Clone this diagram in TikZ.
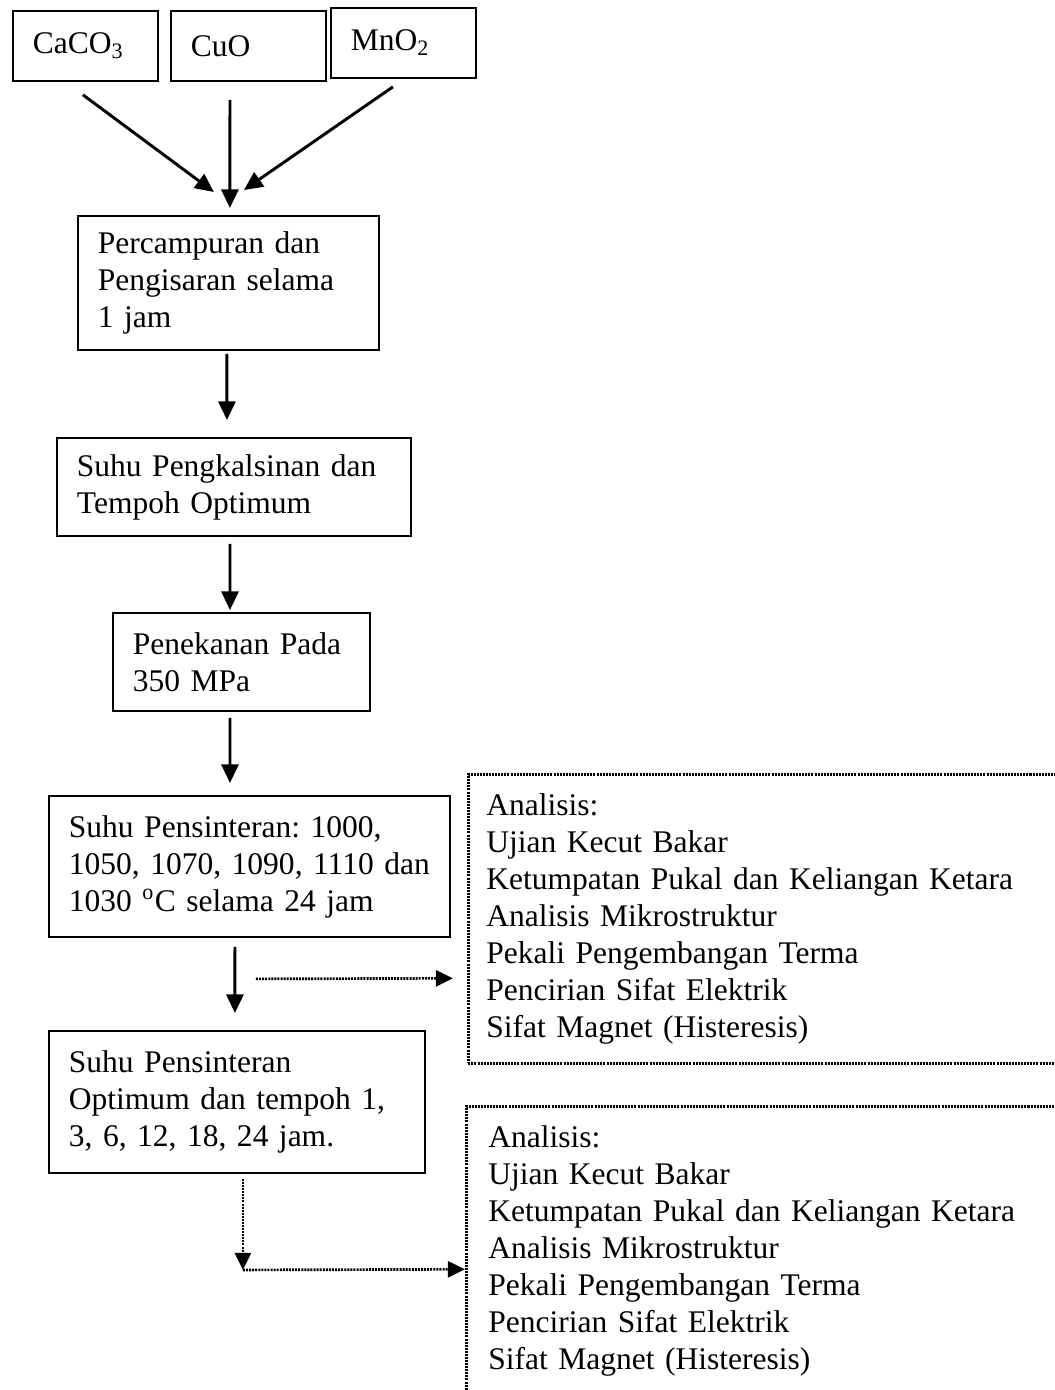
\documentclass[tikz,border=0pt]{standalone}
\usepackage{fontspec}
\setmainfont{Liberation Serif}
\usetikzlibrary{calc,arrows.meta}
\frenchspacing

\begin{document}
\begin{tikzpicture}[
      x=0.3745pt, y=-0.3745pt, % <-- ONE UNIT PER PIXEL, Y GOING DOWN
      font=\fontsize{11.8pt}{13.85pt}\selectfont,
      stage/.style={draw, line width=0.7pt, align=left, anchor=north west, inner xsep=7.49pt, inner ysep=0pt},
      dotbox/.style={stage, line width=1pt, dash pattern=on 0.75pt off 0.4pt},
      flow/.style={line width=1.1pt, -{Triangle[length=7pt, width=6.4pt]}},
      dotflow/.style={line width=1pt, dash pattern=on 0.75pt off 0.4pt, -{Triangle[length=6.4pt, width=6pt]}}
    ]
    \useasboundingbox (0,0) rectangle (1055,1390);

    % Starting powders
    \node[stage, minimum width=54.3pt, minimum height=26.2pt, text width=39.3pt] (caco) at (12,10) {CaCO\textsubscript{3}};
    \node[stage, minimum width=58.05pt, minimum height=26.2pt, text width=43.1pt] (cuo) at (170,10) {CuO};
    \node[stage, minimum width=54.3pt, minimum height=26.2pt, text width=39.3pt] (mno) at (330,7) {MnO\textsubscript{2}};

    % Process steps
    \node[stage, minimum width=112.7pt, minimum height=50.2pt, text width=97.7pt] (mix) at (77,215)
      {Percampuran dan\\Pengisaran selama\\1 jam};
    \node[stage, minimum width=132.6pt, minimum height=36.7pt, text width=117.6pt] (calc) at (56,437)
      {Suhu Pengkalsinan dan\\Tempoh Optimum};
    \node[stage, minimum width=96.2pt, minimum height=36.7pt, text width=81.3pt] (press) at (112,612)
      {Penekanan Pada\\350 MPa};
    \node[stage, minimum width=150.2pt, minimum height=52.8pt, text width=135.2pt] (sinter) at (48,795)
      {Suhu Pensinteran: 1000,\\\mbox{1050, 1070, 1090, 1110 dan}\\1030 \textsuperscript{o}C selama 24 jam};
    \node[stage, minimum width=140.8pt, minimum height=53.2pt, text width=125.8pt] (sinopt) at (48,1030)
      {Suhu Pensinteran\\Optimum dan tempoh 1,\\3, 6, 12, 18, 24 jam.};

    % Analysis boxes (run off the page edge)
    \node[dotbox, inner xsep=6.74pt, minimum width=229.6pt, minimum height=108.2pt, text width=216.1pt] (ana1) at (467,773)
      {Analisis:\\Ujian Kecut Bakar\\Ketumpatan Pukal dan Keliangan Ketara\\Analisis Mikrostruktur\\Pekali Pengembangan Terma\\Pencirian Sifat Elektrik\\Sifat Magnet (Histeresis)};
    \node[dotbox, inner xsep=8.24pt, minimum width=229.6pt, minimum height=108.2pt, text width=213.1pt] (ana2) at (465,1105)
      {Analisis:\\Ujian Kecut Bakar\\Ketumpatan Pukal dan Keliangan Ketara\\Analisis Mikrostruktur\\Pekali Pengembangan Terma\\Pencirian Sifat Elektrik\\Sifat Magnet (Histeresis)};

    % Arrows
    \draw[flow] ($(caco.south)+(-2.5,13)$) -- ($(mix.north)+(-14.5,-23)$);
    \draw[flow] ($(cuo.south)+(-18.5,18)$) -- ($(mix.north)+(1.5,-7)$);
    \draw[flow] ($(mno.south)+(-10.5,8)$) -- ($(mix.north)+(15.5,-25)$);
    \draw[flow] ($(mix.south)+(-1.5,3)$) -- ($(calc.north)+(-7,-17)$);
    \draw[flow] ($(calc.south)+(-4,7)$) -- ($(press.north)+(-11.5,-2)$);
    \draw[flow] ($(press.south)+(-11.5,6)$) -- ($(sinter.north)+(-19.5,-12)$);
    \draw[flow] ($(sinter.south)+(-14.5,9)$) -- ($(sinopt.north)+(-2,-17)$);

    % Dotted arrows to the analyses
    \draw[dotflow] ($(sinter.south)+(6.5,41)$) -- ($(ana1.west)+(-14,59.5)$);
    \coordinate (bend) at ($(sinopt.south)+(6,96)$);
    \draw[dotflow] ($(sinopt.south)+(6,5)$) -- (bend);
    \draw[dotflow] (bend) -- ($(ana2.west)+(0,18.5)$);

  \end{tikzpicture}
\end{document}
